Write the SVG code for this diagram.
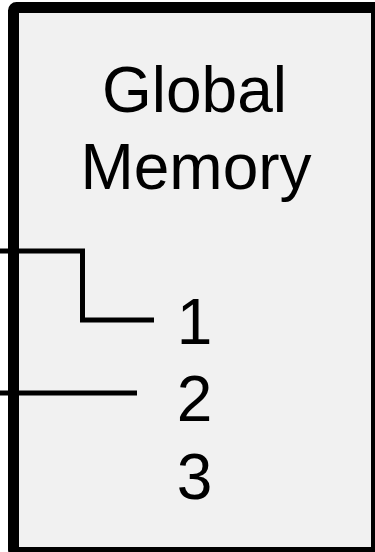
<svg xmlns="http://www.w3.org/2000/svg" width="375" height="552" viewBox="0 0 375 552">
<style>
.t{font-family:"Liberation Sans",Arial,Helvetica,sans-serif;font-size:64px;fill:#000;text-anchor:middle}
.c{fill:none;stroke:#000;stroke-width:5}
</style>
<rect width="375" height="552" fill="#fff"/>
<g id="global-memory">
<rect x="13.5" y="7.5" width="363" height="545" rx="3" fill="#f1f1f1" stroke="#000" stroke-width="11"/>
<text class="t" x="194.5" y="111.5">Global</text>
<text class="t" x="196" y="188.5">Memory</text>
<text class="t" x="194.5" y="343.5">1</text>
<text class="t" x="194.5" y="420.5">2</text>
<text class="t" x="194.5" y="499">3</text>
</g>
<g id="connectors">
<polyline class="c" points="0,251 82.5,251 82.5,320 154,320"/>
<line class="c" x1="0" y1="393" x2="137" y2="393"/>
</g>
</svg>
